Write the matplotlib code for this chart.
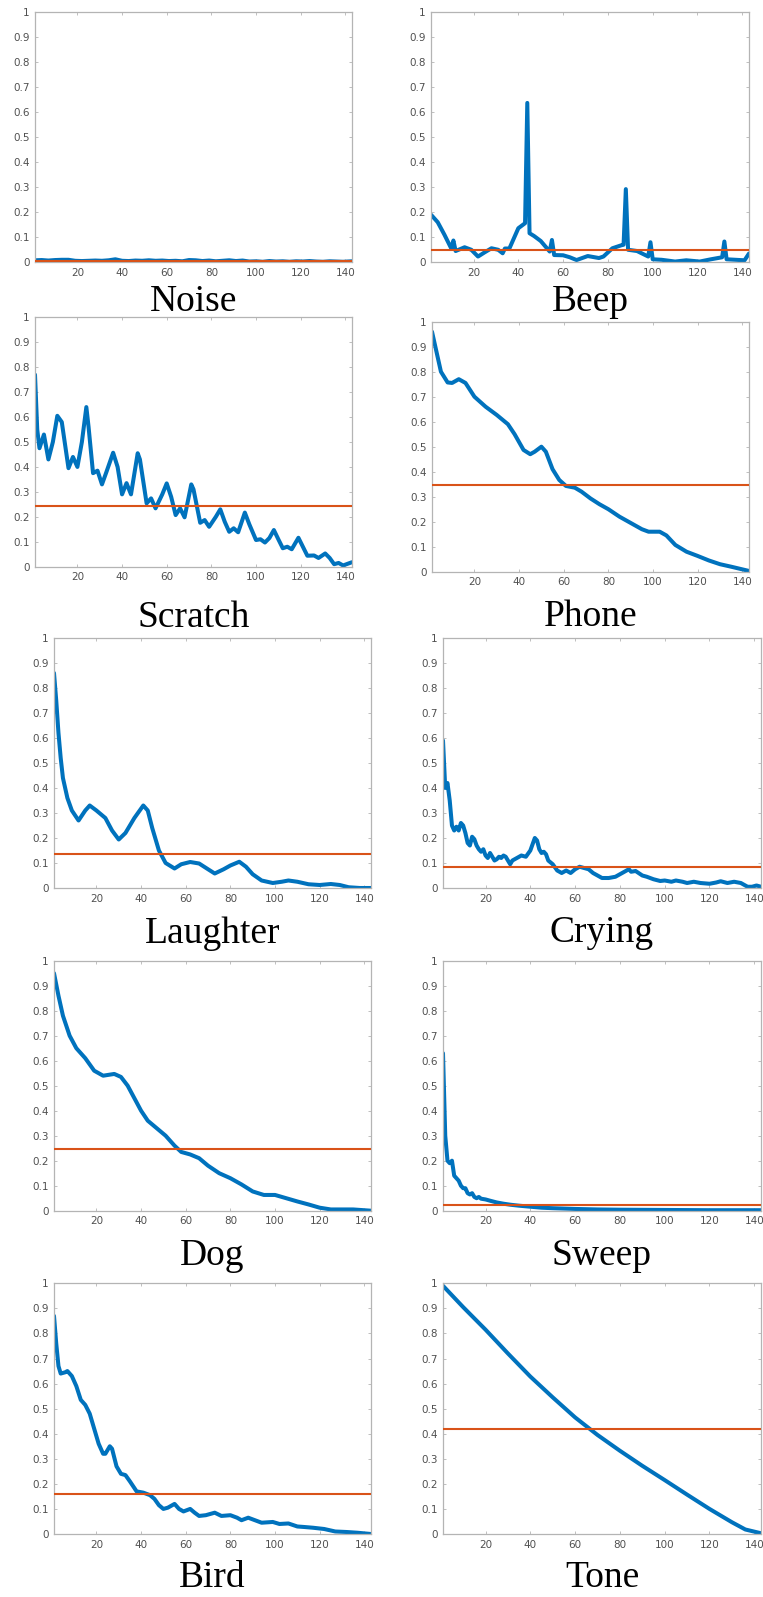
import matplotlib
matplotlib.use("Agg")
import matplotlib.pyplot as plt

W, H = 763, 1597
BLUE = "#0072BD"
ORANGE = "#D95319"

titles = ["Noise", "Beep", "Scratch", "Phone", "Laughter", "Crying", "Dog", "Sweep", "Bird", "Tone"]
thresholds = [0.005, 0.048, 0.245, 0.345, 0.137, 0.085, 0.248, 0.022, 0.158, 0.42]

noise_x = [1, 4, 7, 10, 13, 16, 19, 22, 25, 28, 31, 34, 37, 40, 43, 46, 49, 52, 55, 58, 61, 64, 67, 70,
           73, 76, 79, 82, 85, 88, 91, 94, 97, 100, 103, 106, 109, 112, 115, 118, 121, 124, 127, 130,
           133, 136, 139, 143]
noise_y = [0.008, 0.009, 0.007, 0.009, 0.010, 0.010, 0.006, 0.005, 0.006, 0.007, 0.006, 0.008, 0.012,
           0.006, 0.005, 0.007, 0.006, 0.008, 0.006, 0.007, 0.005, 0.006, 0.004, 0.009, 0.008, 0.005,
           0.007, 0.004, 0.006, 0.008, 0.005, 0.007, 0.003, 0.004, 0.002, 0.005, 0.003, 0.004, 0.002,
           0.004, 0.003, 0.005, 0.003, 0.002, 0.004, 0.003, 0.002, 0.004]

beep_x = [1, 4, 7, 10, 11, 12, 16, 19, 22, 25, 28, 31, 33, 34, 36, 40, 43, 44, 45, 47, 50, 54, 55, 56,
          60, 63, 66, 71, 76, 78, 82, 86, 87, 88, 89, 93, 98, 99, 100, 104, 110, 115, 121, 126, 131,
          132, 133, 137, 141, 143]
beep_y = [0.19, 0.16, 0.11, 0.056, 0.087, 0.045, 0.06, 0.05, 0.023, 0.04, 0.056, 0.05, 0.036, 0.055,
          0.055, 0.136, 0.156, 0.636, 0.116, 0.105, 0.085, 0.043, 0.089, 0.029, 0.028, 0.02, 0.009,
          0.025, 0.017, 0.023, 0.056, 0.068, 0.07, 0.292, 0.05, 0.045, 0.023, 0.08, 0.012, 0.01, 0.003,
          0.008, 0.003, 0.012, 0.02, 0.083, 0.012, 0.01, 0.008, 0.035]

scratch_x = [1, 2, 3, 5, 7, 9, 11, 13, 16, 18, 20, 22, 24, 25, 27, 29, 31, 33, 36, 38, 40, 42, 44, 47, 48,
             51, 53, 55, 58, 60, 62, 64, 66, 68, 71, 72, 75, 77, 79, 82, 84, 86, 88, 90, 92, 95, 97, 100,
             102, 104, 106, 108, 110, 112, 114, 116, 119, 121, 123, 126, 128, 131, 133, 135, 137, 139, 143]
scratch_y = [0.77, 0.55, 0.475, 0.53, 0.43, 0.5, 0.605, 0.58, 0.395, 0.44, 0.4, 0.5, 0.64, 0.56, 0.375,
             0.385, 0.33, 0.38, 0.457, 0.4, 0.29, 0.335, 0.29, 0.455, 0.43, 0.254, 0.274, 0.234, 0.29,
             0.334, 0.28, 0.207, 0.234, 0.198, 0.33, 0.31, 0.176, 0.187, 0.16, 0.2, 0.23, 0.18, 0.14,
             0.154, 0.138, 0.217, 0.17, 0.107, 0.11, 0.097, 0.115, 0.147, 0.11, 0.074, 0.08, 0.07, 0.116,
             0.08, 0.044, 0.045, 0.035, 0.053, 0.035, 0.01, 0.015, 0.005, 0.018]

phone_x = [1, 3, 5, 8, 10, 13, 16, 20, 25, 30, 35, 38, 42, 45, 47, 50, 52, 55, 58, 61, 65, 68, 72, 76, 80,
           85, 90, 95, 98, 103, 106, 110, 115, 120, 125, 130, 135, 143]
phone_y = [0.96, 0.88, 0.80, 0.757, 0.755, 0.77, 0.755, 0.70, 0.66, 0.627, 0.59, 0.55, 0.487, 0.47, 0.48,
           0.5, 0.48, 0.41, 0.367, 0.343, 0.336, 0.32, 0.293, 0.27, 0.25, 0.22, 0.195, 0.17, 0.16, 0.16,
           0.145, 0.107, 0.08, 0.063, 0.045, 0.03, 0.02, 0.003]

laughter_x = [1, 2, 3, 4, 5, 7, 9, 12, 15, 17, 20, 24, 27, 30, 33, 37, 41, 43, 45, 48, 51, 55, 58, 62, 66,
              70, 73, 77, 80, 84, 87, 90, 94, 99, 103, 106, 110, 115, 120, 125, 129, 133, 138, 143]
laughter_y = [0.86, 0.75, 0.62, 0.52, 0.44, 0.36, 0.31, 0.27, 0.31, 0.33, 0.31, 0.28, 0.23, 0.194, 0.22,
              0.28, 0.33, 0.31, 0.24, 0.15, 0.1, 0.078, 0.095, 0.104, 0.098, 0.075, 0.058, 0.075, 0.09,
              0.105, 0.085, 0.055, 0.03, 0.02, 0.025, 0.03, 0.025, 0.015, 0.012, 0.016, 0.012, 0.003, 0.0,
              0.0]

crying_x = [1, 2, 3, 4, 5, 6, 7, 8, 9, 10, 11, 12, 13, 14, 15, 16, 17, 18, 19, 20, 21, 22, 23, 24, 25, 26,
            27, 28, 29, 30, 31, 32, 34, 36, 38, 40, 42, 43, 44, 45, 46, 47, 48, 50, 52, 54, 56, 58, 60,
            62, 64, 66, 68, 70, 72, 75, 78, 80, 82, 84, 85, 87, 90, 92, 95, 98, 100, 103, 105, 108, 110,
            113, 116, 120, 123, 125, 128, 131, 134, 137, 139, 141, 143]
crying_y = [0.59, 0.40, 0.42, 0.35, 0.25, 0.23, 0.245, 0.23, 0.26, 0.25, 0.22, 0.18, 0.17, 0.205, 0.195,
            0.17, 0.155, 0.145, 0.155, 0.13, 0.12, 0.14, 0.125, 0.11, 0.115, 0.125, 0.12, 0.13, 0.125,
            0.11, 0.095, 0.11, 0.12, 0.13, 0.125, 0.15, 0.2, 0.19, 0.155, 0.14, 0.145, 0.135, 0.11, 0.095,
            0.07, 0.06, 0.07, 0.06, 0.075, 0.085, 0.08, 0.075, 0.06, 0.05, 0.04, 0.04, 0.045, 0.055, 0.065,
            0.075, 0.065, 0.068, 0.05, 0.045, 0.035, 0.028, 0.03, 0.025, 0.03, 0.025, 0.02, 0.025, 0.02,
            0.017, 0.022, 0.027, 0.02, 0.025, 0.02, 0.005, 0.005, 0.01, 0.005]

dog_x = [1, 3, 5, 8, 11, 15, 19, 23, 28, 31, 34, 37, 40, 43, 47, 51, 55, 58, 62, 66, 70, 75, 80, 85, 90,
         95, 100, 105, 110, 115, 120, 125, 130, 135, 143]
dog_y = [0.95, 0.86, 0.78, 0.70, 0.65, 0.61, 0.56, 0.54, 0.547, 0.535, 0.5, 0.45, 0.4, 0.36, 0.33, 0.3,
         0.26, 0.235, 0.225, 0.21, 0.18, 0.15, 0.13, 0.105, 0.077, 0.063, 0.063, 0.05, 0.037, 0.025,
         0.012, 0.005, 0.005, 0.005, 0.0]

sweep_x = [1, 2, 3, 4, 5, 6, 7, 8, 9, 10, 11, 12, 13, 14, 15, 16, 17, 18, 20, 22, 25, 28, 31, 35, 40, 45,
           50, 60, 70, 80, 100, 120, 143]
sweep_y = [0.63, 0.3, 0.2, 0.19, 0.2, 0.14, 0.13, 0.12, 0.1, 0.09, 0.09, 0.07, 0.065, 0.07, 0.055, 0.05,
           0.055, 0.048, 0.045, 0.04, 0.033, 0.028, 0.024, 0.02, 0.016, 0.012, 0.01, 0.007, 0.005, 0.004,
           0.003, 0.002, 0.002]

bird_x = [1, 2, 3, 4, 6, 7, 9, 11, 13, 15, 17, 19, 21, 23, 24, 26, 27, 29, 31, 33, 35, 38, 41, 44, 46, 48,
          50, 52, 55, 57, 59, 62, 64, 66, 69, 73, 76, 80, 83, 85, 88, 91, 94, 99, 102, 106, 110, 113, 117,
          122, 127, 132, 137, 143]
bird_y = [0.87, 0.76, 0.67, 0.64, 0.645, 0.65, 0.63, 0.59, 0.535, 0.515, 0.48, 0.42, 0.36, 0.32, 0.32,
          0.35, 0.34, 0.27, 0.24, 0.235, 0.21, 0.17, 0.165, 0.155, 0.14, 0.115, 0.1, 0.105, 0.12, 0.1,
          0.09, 0.1, 0.085, 0.072, 0.075, 0.085, 0.072, 0.075, 0.065, 0.055, 0.065, 0.055, 0.045, 0.048,
          0.04, 0.042, 0.03, 0.028, 0.025, 0.02, 0.01, 0.008, 0.005, 0.0]

tone_x = [1, 10, 20, 30, 40, 50, 60, 70, 80, 90, 100, 110, 120, 130, 136, 143]
tone_y = [0.99, 0.905, 0.815, 0.72, 0.628, 0.545, 0.465, 0.395, 0.332, 0.272, 0.215, 0.157, 0.10, 0.047,
          0.018, 0.003]

series = [(noise_x, noise_y), (beep_x, beep_y), (scratch_x, scratch_y), (phone_x, phone_y),
          (laughter_x, laughter_y), (crying_x, crying_y), (dog_x, dog_y), (sweep_x, sweep_y),
          (bird_x, bird_y), (tone_x, tone_y)]

# axes boxes in pixels: left, top, right, bottom ; and label baseline
boxes = [(35, 11.7, 352, 262.3), (431, 11.7, 749, 262.3),
         (35, 317.3, 352, 566.7), (432, 321.7, 749, 571.7),
         (54, 638, 371, 888), (443, 638, 761, 888),
         (54, 960.7, 371, 1210.7), (443, 960.7, 761, 1210.7),
         (54, 1283.3, 371, 1534), (443, 1283.3, 761, 1534)]
baselines = [311, 311, 627, 626, 943, 942, 1265, 1265, 1587, 1587]

xticks = [20, 40, 60, 80, 100, 120, 140]
yticks = [0, 0.1, 0.2, 0.3, 0.4, 0.5, 0.6, 0.7, 0.8, 0.9, 1]
ytick_labels = ["0", "0.1", "0.2", "0.3", "0.4", "0.5", "0.6", "0.7", "0.8", "0.9", "1"]

fig = plt.figure(figsize=(W / 100, H / 100), dpi=100)
SPINE = "#b4b4b4"
TICKC = "#505050"

for i, (title, thr, (xs, ys), box, bl) in enumerate(zip(titles, thresholds, series, boxes, baselines)):
    l, t, r, b = box
    ax = fig.add_axes([l / W, 1 - b / H, (r - l) / W, (b - t) / H])
    ax.plot(xs, ys, color=BLUE, lw=2.9, solid_joinstyle="round", solid_capstyle="round", zorder=2)
    ax.axhline(thr, color=ORANGE, lw=1.5, zorder=3)
    ax.set_xlim(1, 143)
    ax.set_ylim(0, 1)
    ax.set_xticks(xticks)
    ax.set_xticklabels([str(v) for v in xticks])
    ax.set_yticks(yticks)
    ax.set_yticklabels(ytick_labels)
    ax.tick_params(direction="in", length=2.5, width=0.6, color=SPINE, labelsize=7.5,
                   labelcolor=TICKC, top=True, right=True, pad=4)
    for s in ax.spines.values():
        s.set_color(SPINE)
        s.set_linewidth(0.9)
    cx = (l + r) / 2 / W
    fig.text(cx, 1 - bl / H, title, ha="center", va="baseline",
             family=["Liberation Serif", "DejaVu Serif"], fontsize=27)

fig.savefig("out.png", dpi=100)
